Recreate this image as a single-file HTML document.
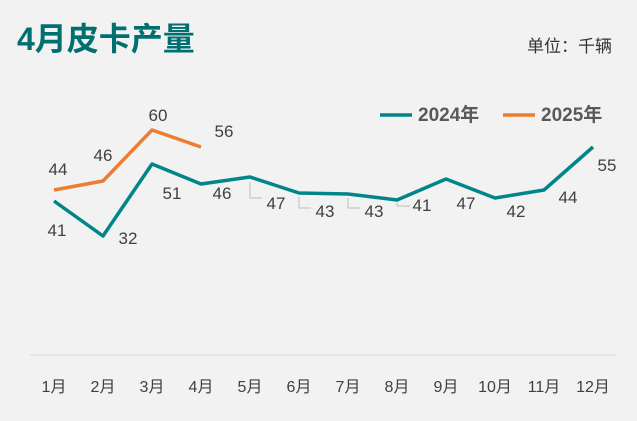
<!DOCTYPE html>
<html><head><meta charset="utf-8"><style>
body{margin:0;background:#f2f2f2;}
svg{display:block;font-family:"Liberation Sans","Noto Sans CJK SC",sans-serif;}
</style></head><body>
<svg width="637" height="421" viewBox="0 0 637 421">
<rect width="637" height="421" fill="#f2f2f2"/>
<text x="17" y="50" font-size="32" font-weight="bold" fill="#006f70">4月皮卡产量</text>
<text x="612" y="52" font-size="17" fill="#333" text-anchor="end">单位：千辆</text>
<line x1="30" y1="355" x2="617" y2="355" stroke="#d9d9d9" stroke-width="1"/>
<g font-size="16" fill="#404040" text-anchor="middle">
<text x="54" y="392">1月</text><text x="103" y="392">2月</text><text x="152" y="392">3月</text><text x="201" y="392">4月</text><text x="250" y="392">5月</text><text x="299" y="392">6月</text><text x="348" y="392">7月</text><text x="397" y="392">8月</text><text x="446" y="392">9月</text><text x="495" y="392">10月</text><text x="544" y="392">11月</text><text x="593" y="392">12月</text>
</g>
<line x1="380" y1="115" x2="412" y2="115" stroke="#00868a" stroke-width="3.5"/>
<text x="418" y="121" font-size="19" font-weight="bold" fill="#595959">2024年</text>
<line x1="503" y1="115" x2="535" y2="115" stroke="#ed7d31" stroke-width="3.5"/>
<text x="541" y="121" font-size="19" font-weight="bold" fill="#595959">2025年</text>
<g stroke="#bfbfbf" stroke-width="1" fill="none">
<polyline points="250,182 250,198 262,198"/>
<polyline points="299,197 299,208 311,208"/>
<polyline points="348,198 348,208 360,208"/>
<polyline points="397,203 397,206 410,206"/>
</g>
<polyline fill="none" stroke="#00868a" stroke-width="3.5" stroke-linejoin="round" points="54,201 103,236 152,164 201,184 250,177 299,193 348,194 397,200 446,179 495,198 544,190 593,147"/>
<polyline fill="none" stroke="#ed7d31" stroke-width="3.5" stroke-linejoin="round" points="54,190 103,181 152,130 201,147"/>
<g font-size="17" fill="#404040" text-anchor="middle">
<text x="57" y="236">41</text><text x="128" y="244">32</text><text x="172" y="199">51</text><text x="222" y="199">46</text><text x="276" y="209">47</text><text x="325" y="217">43</text><text x="374" y="217">43</text><text x="422" y="211">41</text><text x="466" y="209">47</text><text x="516" y="217">42</text><text x="568" y="203">44</text><text x="607" y="171">55</text>
<text x="58" y="175">44</text><text x="103" y="161">46</text><text x="158" y="121">60</text><text x="224" y="137">56</text>
</g>
</svg>
</body></html>
